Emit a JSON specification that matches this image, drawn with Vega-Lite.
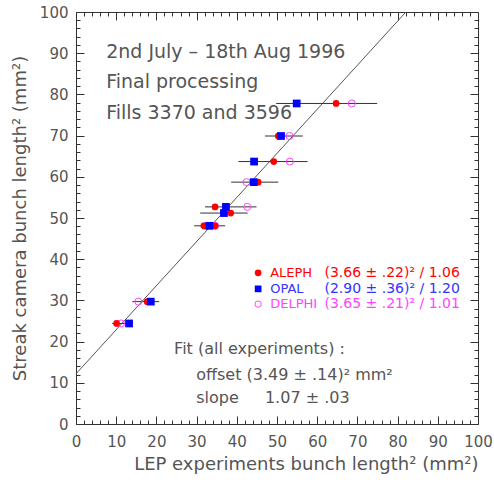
{
  "$schema": "https://vega.github.io/schema/vega-lite/v6.json",
  "width": 402,
  "height": 412,
  "autosize": {"type": "none"},
  "padding": {"left": 76, "top": 12, "right": 16, "bottom": 56},
  "background": "white",
  "config": {
    "view": {"stroke": "#333", "strokeWidth": 1},
    "axis": {
      "domain": false,
      "labelFont": "DejaVu Sans",
      "labelFontSize": 15,
      "labelColor": "#555",
      "titleFont": "DejaVu Sans",
      "titleFontSize": 18,
      "titleFontWeight": "normal",
      "titleColor": "#555"
    },
    "text": {"font": "DejaVu Sans"}
  },
  "datasets": {
    "fit": [{"x": 0, "y": 12.18}, {"x": 82.07, "y": 100}],
    "bars": [
      {"y": 77.8, "lo": 49.8, "hi": 74.9},
      {"y": 69.9, "lo": 47.0, "hi": 56.4},
      {"y": 63.7, "lo": 40.4, "hi": 57.6},
      {"y": 58.7, "lo": 38.6, "hi": 50.3},
      {"y": 52.7, "lo": 32.1, "hi": 44.9},
      {"y": 51.2, "lo": 30.9, "hi": 42.7},
      {"y": 48.1, "lo": 29.4, "hi": 37.1},
      {"y": 29.7, "lo": 14.0, "hi": 20.7},
      {"y": 24.4, "lo": 9.0, "hi": 13.8}
    ],
    "points": [
      {"exp": "ALEPH", "x": 64.7, "y": 77.8},
      {"exp": "ALEPH", "x": 50.3, "y": 69.9},
      {"exp": "ALEPH", "x": 49.2, "y": 63.7},
      {"exp": "ALEPH", "x": 45.3, "y": 58.7},
      {"exp": "ALEPH", "x": 34.6, "y": 52.7},
      {"exp": "ALEPH", "x": 38.5, "y": 51.2},
      {"exp": "ALEPH", "x": 31.8, "y": 48.1},
      {"exp": "ALEPH", "x": 34.6, "y": 48.1},
      {"exp": "ALEPH", "x": 17.7, "y": 29.7},
      {"exp": "ALEPH", "x": 10.1, "y": 24.4},
      {"exp": "OPAL", "x": 54.9, "y": 77.8},
      {"exp": "OPAL", "x": 51.0, "y": 69.9},
      {"exp": "OPAL", "x": 44.3, "y": 63.7},
      {"exp": "OPAL", "x": 44.2, "y": 58.7},
      {"exp": "OPAL", "x": 37.3, "y": 52.7},
      {"exp": "OPAL", "x": 36.8, "y": 51.2},
      {"exp": "OPAL", "x": 33.2, "y": 48.1},
      {"exp": "OPAL", "x": 18.6, "y": 29.7},
      {"exp": "OPAL", "x": 13.2, "y": 24.4},
      {"exp": "DELPHI", "x": 68.6, "y": 77.8},
      {"exp": "DELPHI", "x": 53.1, "y": 69.9},
      {"exp": "DELPHI", "x": 53.2, "y": 63.7},
      {"exp": "DELPHI", "x": 42.4, "y": 58.7},
      {"exp": "DELPHI", "x": 42.6, "y": 52.7},
      {"exp": "DELPHI", "x": 32.3, "y": 48.1},
      {"exp": "DELPHI", "x": 34.6, "y": 48.1},
      {"exp": "DELPHI", "x": 15.5, "y": 29.7},
      {"exp": "DELPHI", "x": 11.2, "y": 24.4}
    ],
    "legend": [
      {"exp": "ALEPH", "mx": 45.3, "nx": 48.3, "fx": 61.8, "y": 36.7, "formula": "(3.66 ± .22)² / 1.06"},
      {"exp": "OPAL", "mx": 45.3, "nx": 48.3, "fx": 61.8, "y": 32.8, "formula": "(2.90 ± .36)² / 1.20"},
      {"exp": "DELPHI", "mx": 45.3, "nx": 48.3, "fx": 61.8, "y": 29.1, "formula": "(3.65 ± .21)² / 1.01"}
    ],
    "heads": [
      {"x": 7.5, "y": 90.3, "text": "2nd July – 18th Aug 1996"},
      {"x": 7.5, "y": 83.0, "text": "Final processing"},
      {"x": 7.5, "y": 75.4, "text": "Fills 3370 and 3596"}
    ],
    "notes": [
      {"x": 24.4, "y": 18.2, "text": "Fit (all experiments) :"},
      {"x": 29.9, "y": 11.9, "text": "offset (3.49 ± .14)² mm²"},
      {"x": 29.9, "y": 6.3, "text": "slope"},
      {"x": 47.0, "y": 6.3, "text": "1.07 ± .03"}
    ]
  },
  "resolve": {"axis": {"x": "independent", "y": "independent"}},
  "layer": [
    {
      "data": {"name": "fit"},
      "mark": {"type": "line", "color": "#555", "strokeWidth": 1},
      "encoding": {
        "x": {"field": "x", "type": "quantitative", "scale": {"domain": [0, 100], "nice": false},
          "axis": {"orient": "bottom", "values": [0,10,20,30,40,50,60,70,80,90,100], "ticks": false, "grid": true, "gridColor": "#333", "gridOpacity": 1, "gridWidth": 1, "gridDash": [8, 396, 8, 1000], "labelPadding": 10, "labelFlush": false, "title": "LEP experiments bunch length² (mm²)", "titleAnchor": "end", "titlePadding": 6}},
        "y": {"field": "y", "type": "quantitative", "scale": {"domain": [0, 100], "nice": false},
          "axis": {"orient": "left", "values": [0,10,20,30,40,50,60,70,80,90,100], "ticks": false, "grid": true, "gridColor": "#333", "gridOpacity": 1, "gridWidth": 1, "gridDash": [8, 386, 8, 1000], "labelPadding": 8, "labelFlush": false, "title": "Streak camera bunch length² (mm²)", "titlePadding": 10}}
      }
    },
    {
      "data": {"name": "bars"},
      "mark": {"type": "rule", "color": "#333", "strokeWidth": 1},
      "encoding": {
        "x": {"field": "lo", "type": "quantitative", "scale": {"domain": [0, 100], "nice": false},
          "axis": {"orient": "top", "values": [2,4,6,8,12,14,16,18,22,24,26,28,32,34,36,38,42,44,46,48,52,54,56,58,62,64,66,68,72,74,76,78,82,84,86,88,92,94,96,98], "ticks": false, "labels": false, "title": null, "grid": true, "gridColor": "#333", "gridOpacity": 1, "gridWidth": 1, "gridDash": [4, 404, 4, 1000]}},
        "x2": {"field": "hi"},
        "y": {"field": "y", "type": "quantitative", "scale": {"domain": [0, 100], "nice": false},
          "axis": {"orient": "right", "values": [2,4,6,8,12,14,16,18,22,24,26,28,32,34,36,38,42,44,46,48,52,54,56,58,62,64,66,68,72,74,76,78,82,84,86,88,92,94,96,98], "ticks": false, "labels": false, "title": null, "grid": true, "gridColor": "#333", "gridOpacity": 1, "gridWidth": 1, "gridDash": [4, 394, 4, 1000]}}
      }
    },
    {
      "data": {"name": "points"},
      "transform": [{"filter": "datum.exp === 'DELPHI'"}],
      "mark": {"type": "point", "shape": "circle", "filled": false, "color": "#ff44ff", "strokeWidth": 1, "size": 50, "opacity": 1},
      "encoding": {
        "x": {"field": "x", "type": "quantitative", "scale": {"domain": [0, 100], "nice": false}, "axis": null},
        "y": {"field": "y", "type": "quantitative", "scale": {"domain": [0, 100], "nice": false}, "axis": null}
      }
    },
    {
      "data": {"name": "points"},
      "transform": [{"filter": "datum.exp === 'ALEPH'"}],
      "mark": {"type": "point", "shape": "circle", "filled": true, "color": "#ff0000", "size": 45, "opacity": 1},
      "encoding": {
        "x": {"field": "x", "type": "quantitative", "scale": {"domain": [0, 100], "nice": false}, "axis": null},
        "y": {"field": "y", "type": "quantitative", "scale": {"domain": [0, 100], "nice": false}, "axis": null}
      }
    },
    {
      "data": {"name": "points"},
      "transform": [{"filter": "datum.exp === 'OPAL'"}],
      "mark": {"type": "point", "shape": "square", "filled": true, "color": "#0000ff", "size": 60, "opacity": 1},
      "encoding": {
        "x": {"field": "x", "type": "quantitative", "scale": {"domain": [0, 100], "nice": false}, "axis": null},
        "y": {"field": "y", "type": "quantitative", "scale": {"domain": [0, 100], "nice": false}, "axis": null}
      }
    },
    {
      "data": {"name": "legend"},
      "transform": [{"filter": "datum.exp === 'ALEPH'"}],
      "mark": {"type": "point", "shape": "circle", "filled": true, "color": "#ff0000", "size": 45, "opacity": 1},
      "encoding": {
        "x": {"field": "mx", "type": "quantitative", "scale": {"domain": [0, 100], "nice": false}, "axis": null},
        "y": {"field": "y", "type": "quantitative", "scale": {"domain": [0, 100], "nice": false}, "axis": null}
      }
    },
    {
      "data": {"name": "legend"},
      "transform": [{"filter": "datum.exp === 'OPAL'"}],
      "mark": {"type": "point", "shape": "square", "filled": true, "color": "#0000ff", "size": 45, "opacity": 1},
      "encoding": {
        "x": {"field": "mx", "type": "quantitative", "scale": {"domain": [0, 100], "nice": false}, "axis": null},
        "y": {"field": "y", "type": "quantitative", "scale": {"domain": [0, 100], "nice": false}, "axis": null}
      }
    },
    {
      "data": {"name": "legend"},
      "transform": [{"filter": "datum.exp === 'DELPHI'"}],
      "mark": {"type": "point", "shape": "circle", "filled": false, "color": "#ff44ff", "strokeWidth": 1, "size": 40, "opacity": 1},
      "encoding": {
        "x": {"field": "mx", "type": "quantitative", "scale": {"domain": [0, 100], "nice": false}, "axis": null},
        "y": {"field": "y", "type": "quantitative", "scale": {"domain": [0, 100], "nice": false}, "axis": null}
      }
    },
    {
      "data": {"name": "legend"},
      "mark": {"type": "text", "align": "left", "baseline": "middle", "fontSize": 13},
      "encoding": {
        "x": {"field": "nx", "type": "quantitative", "scale": {"domain": [0, 100], "nice": false}, "axis": null},
        "y": {"field": "y", "type": "quantitative", "scale": {"domain": [0, 100], "nice": false}, "axis": null},
        "text": {"field": "exp"},
        "color": {"field": "exp", "type": "nominal", "scale": {"domain": ["ALEPH", "OPAL", "DELPHI"], "range": ["#ff0000", "#3333ff", "#ff44ff"]}, "legend": null}
      }
    },
    {
      "data": {"name": "legend"},
      "mark": {"type": "text", "align": "left", "baseline": "middle", "fontSize": 14},
      "encoding": {
        "x": {"field": "fx", "type": "quantitative", "scale": {"domain": [0, 100], "nice": false}, "axis": null},
        "y": {"field": "y", "type": "quantitative", "scale": {"domain": [0, 100], "nice": false}, "axis": null},
        "text": {"field": "formula"},
        "color": {"field": "exp", "type": "nominal", "scale": {"domain": ["ALEPH", "OPAL", "DELPHI"], "range": ["#ff0000", "#3333ff", "#ff44ff"]}, "legend": null}
      }
    },
    {
      "data": {"name": "heads"},
      "mark": {"type": "text", "align": "left", "baseline": "middle", "fontSize": 19, "color": "#555"},
      "encoding": {
        "x": {"field": "x", "type": "quantitative", "scale": {"domain": [0, 100], "nice": false}, "axis": null},
        "y": {"field": "y", "type": "quantitative", "scale": {"domain": [0, 100], "nice": false}, "axis": null},
        "text": {"field": "text"}
      }
    },
    {
      "data": {"name": "notes"},
      "mark": {"type": "text", "align": "left", "baseline": "middle", "fontSize": 16, "color": "#555"},
      "encoding": {
        "x": {"field": "x", "type": "quantitative", "scale": {"domain": [0, 100], "nice": false}, "axis": null},
        "y": {"field": "y", "type": "quantitative", "scale": {"domain": [0, 100], "nice": false}, "axis": null},
        "text": {"field": "text"}
      }
    }
  ]
}
